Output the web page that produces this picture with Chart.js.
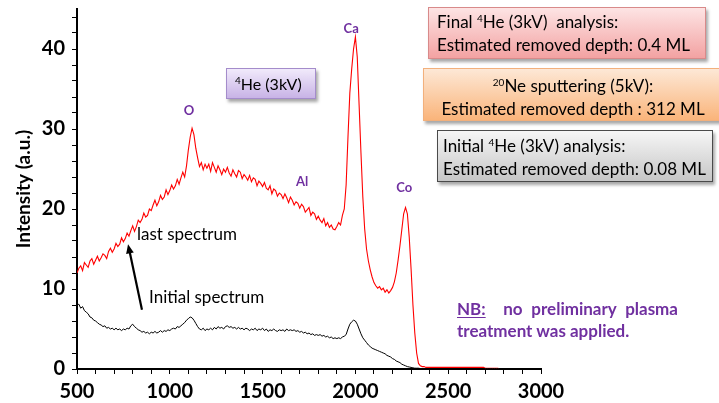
<!DOCTYPE html>
<html>
<head>
<meta charset="utf-8">
<script src="https://cdn.jsdelivr.net/npm/chart.js@4.4.0/dist/chart.umd.min.js"></script>
<style>
  body { margin: 0; background: #fff; font-family: Lato, "Open Sans", sans-serif; }
  #wrap { position: relative; width: 719px; height: 403px; overflow: hidden; }
  #chart { position: absolute; left: 0; top: 0; }
  .box { position: absolute; box-sizing: border-box; font-size: 17px; line-height: 23px; color: #000;
         box-shadow: 2px 3px 3px rgba(0,0,0,0.35); white-space: nowrap; }
  .box sup { font-size: 10px; vertical-align: 6px; line-height: 0; }
  #final { left: 428px; top: 7px; width: 278px; height: 52px; padding: 2px 0 0 8px;
           border: 1px solid #d88a8a; background: linear-gradient(#fde4e4, #f3a2a2); }
  #neon { left: 423px; top: 68px; width: 300px; height: 53px; padding: 5px 0 0 0; text-align: center;
          border: 1px solid #f2b07c; background: linear-gradient(#fde8d6, #fab47a); }
  #initial { left: 437px; top: 130px; width: 276px; height: 52px; padding: 3px 0 0 5px;
             border: 1px solid #4a4a4a; background: linear-gradient(#f6f6f6, #c6c6c6); }
  #beam { left: 226px; top: 68px; width: 90px; height: 31px; padding: 3px 0 0 8px; font-size: 16px;
          border: 1px solid #a48ccb; background: linear-gradient(#f1eafb, #c8b3e6); }
  #nb { position: absolute; left: 457px; top: 298px; width: 221px; font-size: 17px; line-height: 22px;
        font-weight: bold; color: #7030a0; text-align: justify; text-align-last: left; }
  #nb u { text-underline-offset: 2px; }
</style>
</head>
<body>
<div id="wrap">
  <canvas id="chart" width="719" height="403"></canvas>
  <div class="box" id="beam"><sup>4</sup>He (3kV)</div>
  <div class="box" id="final">Final <sup>4</sup>He (3kV)&nbsp; analysis:<br>Estimated removed depth: 0.4 ML</div>
  <div class="box" id="neon"><sup>20</sup>Ne sputtering (5kV):<br>Estimated removed depth : 312 ML</div>
  <div class="box" id="initial">Initial <sup>4</sup>He (3kV) analysis:<br>Estimated removed depth: 0.08 ML</div>
  <div id="nb"><u>NB:</u>&nbsp; no preliminary plasma treatment was applied.</div>
</div>
<script>
// energy grid of both spectra (eV), one value every 10 eV
const energyStart = 500;
const energyStep = 10;

// intensity after the full sputtering sequence
const lastSpectrum = [
  12.0, 12.6, 12.9, 12.3, 13.3, 13.0, 12.7, 13.5, 13.8, 13.1,
  13.6, 14.1, 13.5, 13.9, 14.4, 14.2, 13.8, 14.7, 15.1, 14.6,
  15.0, 15.7, 15.3, 15.6, 16.4, 15.9, 16.3, 17.0, 16.6, 17.3,
  17.9, 17.2, 17.8, 18.6, 18.3, 18.7, 19.5, 19.0, 19.2, 20.0,
  19.8, 20.5, 21.1, 20.4, 20.9, 21.7, 21.2, 21.5, 22.4, 21.8,
  22.3, 23.0, 22.5, 22.9, 23.7, 23.1, 23.9, 24.6, 24.0, 25.4,
  27.4, 29.0, 30.1, 29.3, 27.6, 26.4, 25.3, 25.8, 24.9, 25.6,
  25.1, 25.6, 24.7, 25.8, 25.2, 24.6, 25.4, 24.9, 24.3, 25.0,
  24.6, 25.2, 24.5, 24.1, 24.9, 24.4, 24.0, 24.8, 24.6, 23.8,
  24.3, 24.0, 23.6, 24.2, 23.4, 23.9, 23.7, 22.9, 23.5, 23.2,
  22.8, 23.3, 22.6, 22.4, 22.9, 21.9, 22.5, 22.3, 21.6, 22.0,
  21.8, 21.3, 21.9, 21.4, 20.8, 21.5, 21.1, 20.5, 20.9, 20.7,
  20.1, 20.6, 20.3, 19.6, 19.9, 20.2, 19.2, 19.6, 19.4, 18.7,
  19.1, 18.6, 18.3, 18.8, 17.9, 18.3, 17.7, 18.0, 17.5, 17.4,
  17.8, 18.3, 18.0, 19.2, 20.0, 23.0, 29.0, 34.5, 37.5, 40.0,
  41.5, 39.0, 33.0, 27.0, 21.5, 17.5, 15.0, 13.5, 12.4, 11.5,
  10.8, 10.4, 10.1, 10.3, 9.9, 10.1, 9.6, 9.9, 9.5, 9.8,
  10.2, 10.9, 12.0, 13.6, 15.4, 17.4, 19.4, 20.2, 19.4, 16.5,
  12.5, 8.0, 4.5, 2.0, 0.7, 0.4, 0.3, 0.3, 0.2, 0.2,
  0.2, 0.2, 0.2, 0.2, 0.2, 0.2, 0.2, 0.2, 0.2, 0.2,
  0.2, 0.2, 0.2, 0.2, 0.2, 0.2, 0.2, 0.2, 0.2, 0.2,
  0.2, 0.2, 0.2, 0.2, 0.2, 0.2, 0.2, 0.2, 0.2, 0.2,
  0.1, 0.1, 0.1, 0.1, 0.1, 0.1, 0.1, 0.1
];

// intensity of the first 4He analysis
const initialSpectrum = [
  8.0, 8.1, 7.6, 7.8, 7.3, 7.1, 6.9, 6.5, 6.4, 6.1,
  6.0, 5.8, 5.6, 5.5, 5.3, 5.4, 5.1, 5.2, 5.0, 5.1,
  4.9, 5.1, 4.9, 5.0, 4.8, 5.0, 4.9, 5.1, 5.0, 5.4,
  5.6, 5.3, 5.1, 4.9, 4.8, 4.6, 4.7, 4.5, 4.6, 4.4,
  4.6, 4.5, 4.7, 4.5, 4.6, 4.8, 4.6, 4.8, 4.7, 4.9,
  4.8, 5.0, 5.1, 5.0, 5.3, 5.2, 5.4, 5.6, 5.8, 6.1,
  6.3, 6.5, 6.4, 6.1, 5.7, 5.3, 5.0, 4.9, 5.1, 4.8,
  5.0, 4.9, 5.1, 4.9, 5.2, 5.0, 5.3, 5.1, 5.2, 5.0,
  5.3, 5.4, 5.2, 5.3, 5.1, 5.2, 5.0, 5.2, 5.0, 5.1,
  4.9, 5.1, 5.0, 4.8, 5.0, 4.9, 5.1, 4.8, 5.0, 4.9,
  5.1, 4.8, 5.0, 4.7, 4.9, 4.8, 5.0, 4.8, 4.7, 4.9,
  4.8, 4.9, 4.7, 5.0, 4.8, 4.9, 4.8, 4.9, 4.7, 4.8,
  4.6, 4.7, 4.5, 4.6, 4.4, 4.5, 4.3, 4.4, 4.2, 4.3,
  4.2, 4.3, 4.1, 4.2, 4.0, 4.1, 3.9, 4.0, 3.8, 3.9,
  3.8, 3.9, 3.8, 4.0, 4.1, 4.3, 5.0, 5.6, 5.9, 6.1,
  6.0, 5.6, 5.0, 4.4, 3.9, 3.6, 3.3, 3.0, 2.8, 2.6,
  2.5, 2.4, 2.3, 2.2, 2.1, 2.0, 1.9, 1.7, 1.6, 1.5,
  1.3, 1.2, 1.0, 0.9, 0.8, 0.6, 0.5, 0.4, 0.3, 0.25,
  0.2, 0.15, 0.1, 0.1, 0.1, 0.05, 0.05, 0.05, 0.05, 0.05,
  0.05, 0.05, 0.05, 0.05, 0.05, 0.05, 0.05, 0.05, 0.05, 0.05,
  0.05, 0.05, 0.05, 0.05, 0.05, 0.05, 0.05, 0.05, 0.05, 0.05,
  0.05, 0.05, 0.05, 0.05, 0.05, 0.05, 0.05, 0.05, 0.05, 0.05,
  0.05, 0.05, 0.05, 0.05, 0.05, 0.05, 0.05, 0.05
];

// element peaks marked above the last spectrum
const peakNames = ['O', 'Al', 'Ca', 'Co'];
const peakEnergies = [1104, 1713, 1977, 2263];
const peakLabelY = [32.3, 23.4, 42.5, 22.7];

const xTicks = [];
for (let v = 500; v <= 3000; v += 100) xTicks.push(v);
const yTicks = [];
for (let v = 0; v <= 44; v += 2) yTicks.push(v);

function toPoints(values) {
  return values.map((v, i) => ({ x: energyStart + i * energyStep, y: v }));
}

const annotate = {
  id: 'annotate',
  afterDatasetsDraw(chart) {
    const { ctx, scales: { x, y } } = chart;
    ctx.save();
    ctx.fillStyle = '#7030a0';
    ctx.font = 'bold 13px Lato';
    ctx.textAlign = 'center';
    ctx.textBaseline = 'middle';
    peakNames.forEach((name, i) => {
      ctx.fillText(name, x.getPixelForValue(peakEnergies[i]), y.getPixelForValue(peakLabelY[i]));
    });

    ctx.fillStyle = '#000';
    ctx.font = '17px Lato';
    ctx.textAlign = 'left';
    ctx.fillText('last spectrum', x.getPixelForValue(823), y.getPixelForValue(16.75));
    ctx.fillText('Initial spectrum', x.getPixelForValue(888), y.getPixelForValue(8.9));

    // arrow from the initial to the last spectrum
    const x0 = x.getPixelForValue(850), y0 = y.getPixelForValue(7.4);
    const x1 = x.getPixelForValue(775), y1 = y.getPixelForValue(15.6);
    const a = Math.atan2(y1 - y0, x1 - x0);
    ctx.strokeStyle = '#000';
    ctx.lineWidth = 2.2;
    ctx.beginPath();
    ctx.moveTo(x0, y0);
    ctx.lineTo(x1 - 6 * Math.cos(a), y1 - 6 * Math.sin(a));
    ctx.stroke();
    ctx.beginPath();
    ctx.moveTo(x1, y1);
    ctx.lineTo(x1 - 10 * Math.cos(a - 0.4), y1 - 10 * Math.sin(a - 0.4));
    ctx.lineTo(x1 - 10 * Math.cos(a + 0.4), y1 - 10 * Math.sin(a + 0.4));
    ctx.closePath();
    ctx.fill();
    ctx.restore();
  }
};

new Chart(document.getElementById('chart'), {
  type: 'line',
  data: {
    datasets: [{
      label: 'Initial spectrum',
      data: toPoints(initialSpectrum),
      borderColor: '#000',
      borderWidth: 1
    }, {
      label: 'last spectrum',
      data: toPoints(lastSpectrum),
      borderColor: '#ff0000',
      borderWidth: 1.1
    }]
  },
  options: {
    responsive: false,
    animation: false,
    events: [],
    layout: { padding: { left: 8, top: 9, right: 178, bottom: 0 } },
    elements: { point: { radius: 0 }, line: { tension: 0 } },
    plugins: { legend: { display: false }, tooltip: { enabled: false } },
    scales: {
      x: {
        type: 'linear',
        min: 500,
        max: 3000,
        afterBuildTicks: s => { s.ticks = xTicks.map(v => ({ value: v })); },
        afterFit: s => { s.height = 34; },
        border: { color: '#000', width: 2 },
        grid: { drawOnChartArea: false, color: '#000', tickLength: 5 },
        ticks: {
          autoSkip: false, maxRotation: 0, padding: 6, color: '#000',
          font: { family: 'Lato', size: 20, weight: 'bold' },
          callback: v => (v % 500 === 0 ? v : '')
        }
      },
      y: {
        min: 0,
        max: 45,
        afterBuildTicks: s => { s.ticks = yTicks.map(v => ({ value: v })); },
        afterFit: s => { s.width = 69; s.paddingTop = 0; s.paddingBottom = 0; },
        border: { color: '#000', width: 2 },
        grid: { drawOnChartArea: false, color: '#000', tickLength: 5 },
        title: {
          display: true, text: 'Intensity (a.u.)', color: '#000', padding: 4,
          font: { family: 'Lato', size: 19, weight: 'bold' }
        },
        ticks: {
          autoSkip: false, padding: 7, color: '#000',
          font: { family: 'Lato', size: 20, weight: 'bold' },
          callback: v => (v % 10 === 0 ? v : '')
        }
      }
    }
  },
  plugins: [annotate]
});
</script>
</body>
</html>
